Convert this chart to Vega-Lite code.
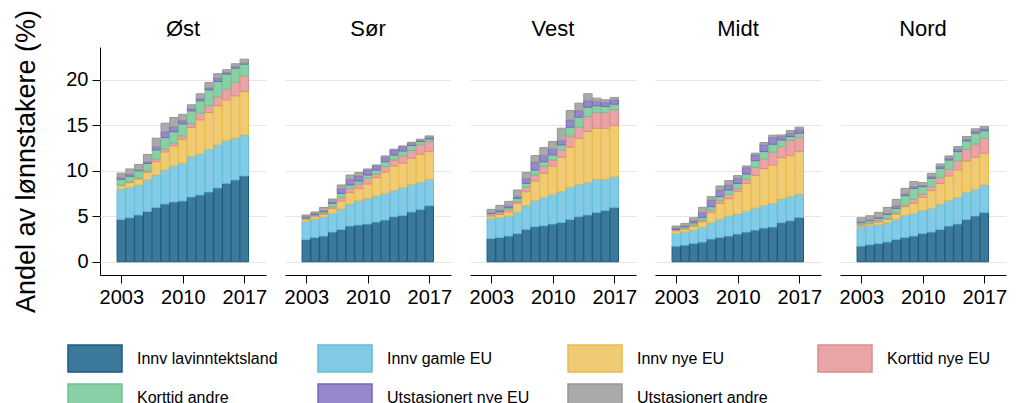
{
"$schema": "https://vega.github.io/schema/vega-lite/v6.json",
"padding": {"left": 12, "top": 9, "right": 5, "bottom": 0},
"datasets": {"cats": [
{"k":"a","kat":"Innv lavinntektsland","o":1},
{"k":"b","kat":"Innv gamle EU","o":2},
{"k":"c","kat":"Innv nye EU","o":3},
{"k":"d","kat":"Korttid nye EU","o":4},
{"k":"e","kat":"Korttid andre","o":5},
{"k":"f","kat":"Utstasjonert nye EU","o":6},
{"k":"g","kat":"Utstasjonert andre","o":7}
]},
"data": {"values": [
{"r":"Øst","y":2003,"a":4.66,"b":3.34,"c":0.37,"d":0.05,"e":0.65,"f":0.2,"g":0.47},
{"r":"Øst","y":2004,"a":4.84,"b":3.31,"c":0.55,"d":0.1,"e":0.6,"f":0.2,"g":0.6},
{"r":"Øst","y":2005,"a":5.14,"b":3.3,"c":0.66,"d":0.1,"e":0.8,"f":0.1,"g":0.6},
{"r":"Øst","y":2006,"a":5.54,"b":3.46,"c":0.83,"d":0.17,"e":0.8,"f":0.2,"g":0.8},
{"r":"Øst","y":2007,"a":5.98,"b":3.56,"c":1.46,"d":0.27,"e":1.03,"f":0.36,"g":0.92},
{"r":"Øst","y":2008,"a":6.35,"b":3.75,"c":1.97,"d":0.3,"e":1.28,"f":0.63,"g":0.95},
{"r":"Øst","y":2009,"a":6.57,"b":3.96,"c":2.2,"d":0.3,"e":1.27,"f":0.56,"g":0.99},
{"r":"Øst","y":2010,"a":6.68,"b":4.15,"c":2.64,"d":0.36,"e":1.33,"f":0.34,"g":0.7},
{"r":"Øst","y":2011,"a":7.12,"b":4.44,"c":3.19,"d":0.41,"e":1.43,"f":0.25,"g":0.41},
{"r":"Øst","y":2012,"a":7.34,"b":4.51,"c":3.75,"d":0.73,"e":1.36,"f":0.25,"g":0.52},
{"r":"Øst","y":2013,"a":7.67,"b":4.7,"c":4.03,"d":0.77,"e":1.73,"f":0.2,"g":0.6},
{"r":"Øst","y":2014,"a":8.11,"b":4.73,"c":4.3,"d":0.99,"e":1.67,"f":0.38,"g":0.48},
{"r":"Øst","y":2015,"a":8.62,"b":4.66,"c":4.52,"d":1.17,"e":1.65,"f":0.18,"g":0.3},
{"r":"Øst","y":2016,"a":8.99,"b":4.61,"c":4.64,"d":1.5,"e":1.54,"f":0.19,"g":0.29},
{"r":"Øst","y":2017,"a":9.43,"b":4.51,"c":4.76,"d":1.74,"e":1.28,"f":0.1,"g":0.44},
{"r":"Sør","y":2003,"a":2.46,"b":1.98,"c":0.22,"d":0.11,"e":0.07,"f":0.11,"g":0.19},
{"r":"Sør","y":2004,"a":2.68,"b":2.02,"c":0.29,"d":0.11,"e":0.07,"f":0.15,"g":0.15},
{"r":"Sør","y":2005,"a":2.83,"b":2.09,"c":0.29,"d":0.15,"e":0.14,"f":0.11,"g":0.37},
{"r":"Sør","y":2006,"a":3.27,"b":2.05,"c":0.55,"d":0.19,"e":0.36,"f":0.18,"g":0.3},
{"r":"Sør","y":2007,"a":3.56,"b":2.24,"c":0.88,"d":0.37,"e":0.47,"f":0.52,"g":0.4},
{"r":"Sør","y":2008,"a":3.93,"b":2.42,"c":1.25,"d":0.44,"e":0.4,"f":0.62,"g":0.48},
{"r":"Sør","y":2009,"a":4.04,"b":2.64,"c":1.39,"d":0.48,"e":0.33,"f":0.55,"g":0.37},
{"r":"Sør","y":2010,"a":4.15,"b":2.79,"c":1.61,"d":0.62,"e":0.37,"f":0.55,"g":0.11},
{"r":"Sør","y":2011,"a":4.37,"b":2.86,"c":2.02,"d":0.4,"e":0.44,"f":0.48,"g":0.07},
{"r":"Sør","y":2012,"a":4.59,"b":2.93,"c":2.35,"d":0.59,"e":0.54,"f":0.49,"g":0.14},
{"r":"Sør","y":2013,"a":4.95,"b":2.87,"c":2.71,"d":0.66,"e":0.55,"f":0.55,"g":0.08},
{"r":"Sør","y":2014,"a":5.1,"b":3.05,"c":2.68,"d":0.8,"e":0.55,"f":0.48,"g":0.07},
{"r":"Sør","y":2015,"a":5.47,"b":3.04,"c":2.87,"d":0.84,"e":0.55,"f":0.26,"g":0.11},
{"r":"Sør","y":2016,"a":5.76,"b":2.94,"c":3.12,"d":1.02,"e":0.37,"f":0.11,"g":0.15},
{"r":"Sør","y":2017,"a":6.17,"b":2.89,"c":3.05,"d":1.1,"e":0.29,"f":0.15,"g":0.18},
{"r":"Vest","y":2003,"a":2.57,"b":2.2,"c":0.26,"d":0.18,"e":0.11,"f":0.07,"g":0.37},
{"r":"Vest","y":2004,"a":2.68,"b":2.16,"c":0.37,"d":0.18,"e":0.11,"f":0.19,"g":0.51},
{"r":"Vest","y":2005,"a":2.83,"b":2.2,"c":0.47,"d":0.26,"e":0.18,"f":0.19,"g":0.51},
{"r":"Vest","y":2006,"a":3.12,"b":2.35,"c":0.95,"d":0.18,"e":0.37,"f":0.19,"g":0.73},
{"r":"Vest","y":2007,"a":3.56,"b":2.61,"c":1.54,"d":0.47,"e":0.44,"f":0.52,"g":0.69},
{"r":"Vest","y":2008,"a":3.85,"b":2.87,"c":2.16,"d":0.66,"e":0.55,"f":0.88,"g":0.7},
{"r":"Vest","y":2009,"a":3.96,"b":3.12,"c":2.64,"d":0.74,"e":0.54,"f":0.7,"g":0.85},
{"r":"Vest","y":2010,"a":4.15,"b":3.26,"c":3.12,"d":0.66,"e":0.55,"f":0.63,"g":0.84},
{"r":"Vest","y":2011,"a":4.33,"b":3.38,"c":3.78,"d":0.8,"e":0.55,"f":0.48,"g":1.36},
{"r":"Vest","y":2012,"a":4.66,"b":3.52,"c":4.41,"d":1.24,"e":0.96,"f":0.81,"g":1.02},
{"r":"Vest","y":2013,"a":4.95,"b":3.56,"c":5.07,"d":1.21,"e":1.1,"f":0.73,"g":0.81},
{"r":"Vest","y":2014,"a":5.14,"b":3.59,"c":5.58,"d":1.65,"e":1.03,"f":0.7,"g":0.77},
{"r":"Vest","y":2015,"a":5.43,"b":3.63,"c":5.62,"d":1.72,"e":0.74,"f":0.47,"g":0.37},
{"r":"Vest","y":2016,"a":5.65,"b":3.41,"c":5.62,"d":1.72,"e":0.66,"f":0.44,"g":0.3},
{"r":"Vest","y":2017,"a":5.98,"b":3.34,"c":5.65,"d":1.73,"e":0.62,"f":0.48,"g":0.26},
{"r":"Midt","y":2003,"a":1.72,"b":1.4,"c":0.29,"d":0.08,"e":0.07,"f":0.15,"g":0.22},
{"r":"Midt","y":2004,"a":1.83,"b":1.47,"c":0.3,"d":0.11,"e":0.14,"f":0.11,"g":0.26},
{"r":"Midt","y":2005,"a":2.02,"b":1.47,"c":0.44,"d":0.11,"e":0.25,"f":0.22,"g":0.33},
{"r":"Midt","y":2006,"a":2.17,"b":1.61,"c":0.62,"d":0.19,"e":0.29,"f":0.51,"g":0.59},
{"r":"Midt","y":2007,"a":2.5,"b":1.79,"c":1.14,"d":0.26,"e":0.37,"f":0.73,"g":0.37},
{"r":"Midt","y":2008,"a":2.68,"b":1.98,"c":1.76,"d":0.3,"e":0.44,"f":0.73,"g":0.44},
{"r":"Midt","y":2009,"a":2.83,"b":2.2,"c":1.91,"d":0.47,"e":0.48,"f":0.55,"g":0.48},
{"r":"Midt","y":2010,"a":3.05,"b":2.2,"c":2.46,"d":0.33,"e":0.58,"f":0.55,"g":0.3},
{"r":"Midt","y":2011,"a":3.27,"b":2.27,"c":3.08,"d":0.44,"e":0.59,"f":0.7,"g":0.18},
{"r":"Midt","y":2012,"a":3.49,"b":2.42,"c":3.59,"d":0.89,"e":0.73,"f":0.62,"g":0.19},
{"r":"Midt","y":2013,"a":3.71,"b":2.49,"c":4.04,"d":1.06,"e":0.81,"f":0.73,"g":0.26},
{"r":"Midt","y":2014,"a":3.82,"b":2.6,"c":4.22,"d":1.4,"e":0.88,"f":0.73,"g":0.26},
{"r":"Midt","y":2015,"a":4.29,"b":2.61,"c":4.55,"d":1.21,"e":0.73,"f":0.37,"g":0.18},
{"r":"Midt","y":2016,"a":4.51,"b":2.65,"c":4.51,"d":1.65,"e":0.44,"f":0.37,"g":0.29},
{"r":"Midt","y":2017,"a":4.88,"b":2.57,"c":4.66,"d":1.58,"e":0.44,"f":0.44,"g":0.22},
{"r":"Nord","y":2003,"a":1.72,"b":2.1,"c":0.14,"d":0.11,"e":0.22,"f":0.11,"g":0.44},
{"r":"Nord","y":2004,"a":1.87,"b":2.13,"c":0.18,"d":0.11,"e":0.22,"f":0.08,"g":0.47},
{"r":"Nord","y":2005,"a":2.02,"b":2.05,"c":0.3,"d":0.14,"e":0.26,"f":0.11,"g":0.55},
{"r":"Nord","y":2006,"a":2.17,"b":2.12,"c":0.37,"d":0.11,"e":0.44,"f":0.11,"g":0.66},
{"r":"Nord","y":2007,"a":2.46,"b":2.2,"c":0.59,"d":0.14,"e":0.48,"f":0.26,"g":0.73},
{"r":"Nord","y":2008,"a":2.68,"b":2.42,"c":0.96,"d":0.18,"e":1.03,"f":0.18,"g":0.62},
{"r":"Nord","y":2009,"a":2.83,"b":2.49,"c":1.1,"d":0.44,"e":1.21,"f":0.19,"g":0.55},
{"r":"Nord","y":2010,"a":3.12,"b":2.49,"c":1.47,"d":0.37,"e":0.81,"f":0.11,"g":0.33},
{"r":"Nord","y":2011,"a":3.27,"b":2.6,"c":1.95,"d":0.44,"e":0.91,"f":0.19,"g":0.36},
{"r":"Nord","y":2012,"a":3.56,"b":2.75,"c":2.31,"d":0.63,"e":1.03,"f":0.18,"g":0.29},
{"r":"Nord","y":2013,"a":3.93,"b":2.79,"c":2.71,"d":0.74,"e":1.02,"f":0.19,"g":0.25},
{"r":"Nord","y":2014,"a":4.15,"b":2.93,"c":3.01,"d":0.99,"e":1.03,"f":0.26,"g":0.29},
{"r":"Nord","y":2015,"a":4.66,"b":2.97,"c":3.45,"d":1.29,"e":0.91,"f":0.19,"g":0.29},
{"r":"Nord","y":2016,"a":5.03,"b":2.93,"c":3.53,"d":1.46,"e":1.18,"f":0.22,"g":0.26},
{"r":"Nord","y":2017,"a":5.43,"b":3.01,"c":3.49,"d":1.65,"e":0.81,"f":0.22,"g":0.25}
]},
"transform": [
{"fold": ["a","b","c","d","e","f","g"], "as": ["k","v"]},
{"lookup": "k", "from": {"data": {"name": "cats"}, "key": "k", "fields": ["kat","o"]}}
],
"facet": {"column": {"field": "r", "type": "nominal", "sort": ["Øst","Sør","Vest","Midt","Nord"], "title": null,
  "header": {"labelFontSize": 22, "labelFont": "Liberation Sans", "labelColor": "#000", "labelPadding": 6}}},
"spacing": 19,
"spec": {
"width": 166,
"height": 228,
"mark": {"type": "bar", "size": 8.4, "strokeWidth": 1},
"encoding": {
"x": {"field": "y", "type": "quantitative", "scale": {"domain": [2001.15, 2018.9], "nice": false, "zero": false},
  "axis": {"values": [2003, 2010, 2017], "format": "d", "title": null, "grid": false, "labelFlush": false}},
"y": {"field": "v", "type": "quantitative", "stack": "zero", "scale": {"domain": [-1.45, 23.6], "nice": false, "zero": false},
  "axis": {"values": [0, 5, 10, 15, 20], "title": "Andel av lønnstakere (%)", "titlePadding": 25}},
"fill": {"field": "kat", "type": "nominal", "title": null,
  "scale": {"domain": ["Innv lavinntektsland","Innv gamle EU","Innv nye EU","Korttid nye EU","Korttid andre","Utstasjonert nye EU","Utstasjonert andre"],
  "range": ["#3b7899","#83cbe4","#f0cb76","#e9a5a5","#8ad0a6","#9787cc","#aaaaaa"]},
  "legend": {"orient": "none", "legendX": -19.5, "legendY": 297}},
"stroke": {"field": "kat", "type": "nominal", "title": null,
  "scale": {"domain": ["Innv lavinntektsland","Innv gamle EU","Innv nye EU","Korttid nye EU","Korttid andre","Utstasjonert nye EU","Utstasjonert andre"],
  "range": ["#1b5b82","#5ebfe0","#ebba45","#e08a8c","#6cc48e","#7a65bd","#959595"]},
  "legend": {"orient": "none", "legendX": -19.5, "legendY": 297}},
"order": {"field": "o", "type": "quantitative"}
}
},
"config": {
"view": {"stroke": null},
"font": "Liberation Sans",
"axis": {"domainColor": "#000", "tickColor": "#000", "labelColor": "#000", "labelFontSize": 20, "labelFont": "Liberation Sans",
  "tickSize": 8, "labelPadding": 4, "gridColor": "#e6e6e6", "titleFont": "Liberation Sans", "titleFontWeight": "normal",
  "titleFontSize": 27, "titleColor": "#000"},
"legend": {"direction": "horizontal", "columns": 4, "symbolType": "M-2,-1H2V1H-2Z", "symbolSize": 729,
  "symbolStrokeWidth": 1.5, "labelFontSize": 16, "labelFont": "Liberation Sans", "labelColor": "#000", "labelOffset": 27.5,
  "rowPadding": 6, "columnPadding": 35, "gridAlign": "all", "padding": 0}
}
}
